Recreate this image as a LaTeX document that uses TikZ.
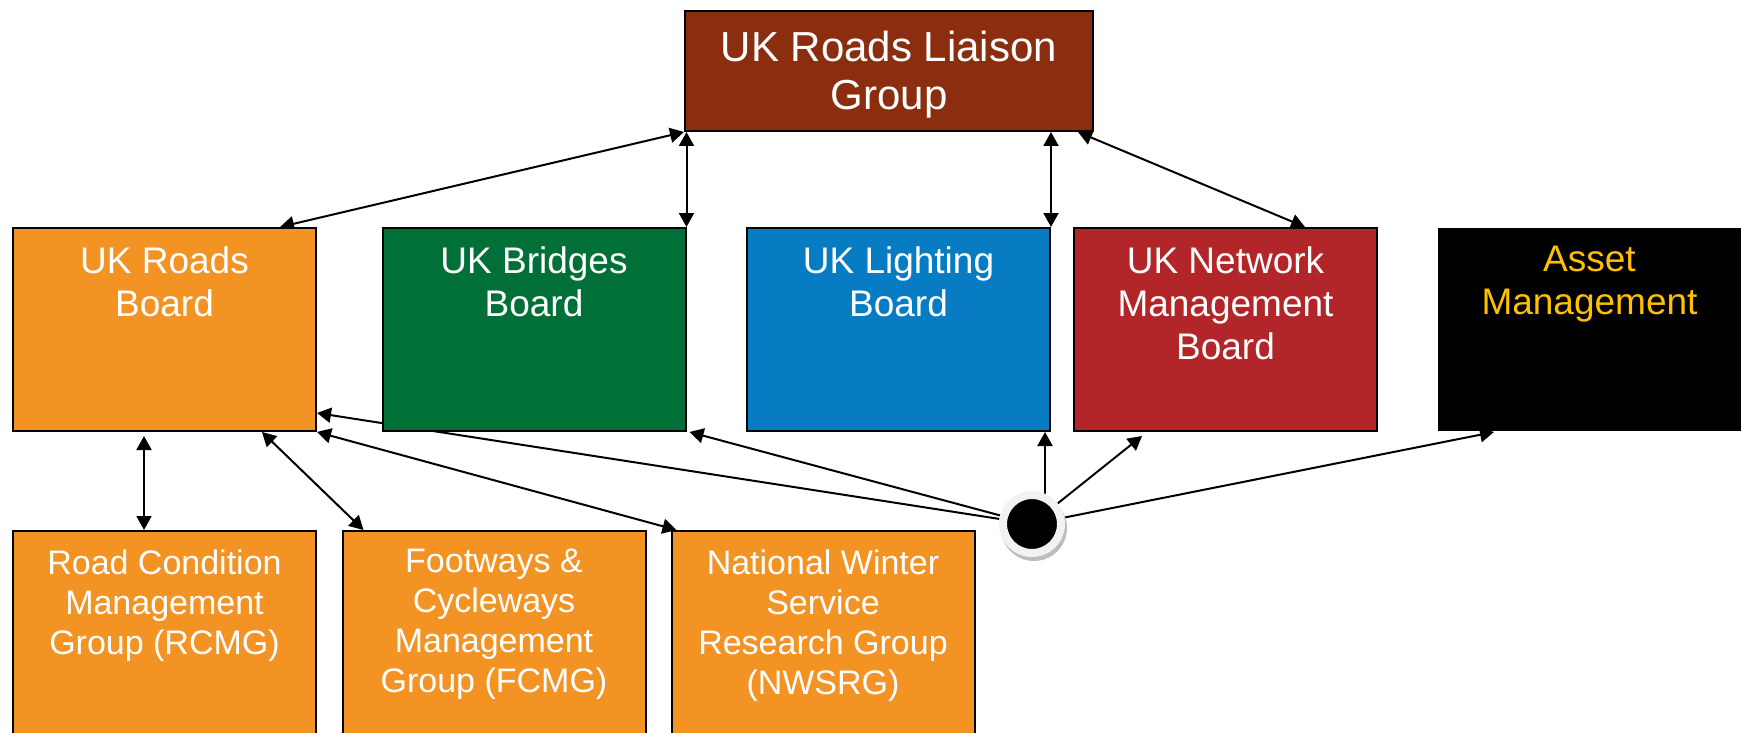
\documentclass[tikz,border=0pt]{standalone}
\usepackage{fontspec}
\setmainfont{Liberation Sans}
\usetikzlibrary{arrows.meta,backgrounds,calc}
\definecolor{liaisonc}{HTML}{8B2E10}
\definecolor{orangec}{HTML}{F39324}
\definecolor{greenc}{HTML}{007038}
\definecolor{bluec}{HTML}{077CC2}
\definecolor{redc}{HTML}{B22528}
\definecolor{goldc}{HTML}{FFC000}
\definecolor{ringc}{HTML}{F2F2F2}
\definecolor{shadowc}{HTML}{BDBDBD}
\begin{document}
\begin{tikzpicture}[x=0.5pt,y=-0.5pt,
  box/.style={draw=black,line width=1pt,rectangle,inner sep=0pt},
  boardbox/.style={box,minimum width=151.5pt,minimum height=101.5pt},
  lowbox/.style={box,fill=orangec,minimum width=151.5pt,minimum height=115pt},
  boardtext/.style={text=white,align=center,inner sep=0pt,anchor=north,font=\fontsize{18.5}{21.5}\selectfont},
  lowtext/.style={text=white,align=center,inner sep=0pt,anchor=north,font=\fontsize{17}{20}\selectfont},
  tip/.tip={Triangle[length=7pt,width=7.5pt]},
  link/.style={line width=1pt,tip-tip},
  feed/.style={line width=1pt,-tip}
]
\useasboundingbox (0,0) rectangle (1741,733);
\clip (0,0) rectangle (1741,733);
% top
\node[box,fill=liaisonc,minimum width=204pt,minimum height=60pt] (liaison) at (889,71) {};
\node[text=white,align=center,inner sep=0pt,anchor=north,font=\fontsize{21}{24}\selectfont] (liaisonT) at ([yshift=-10.5pt]liaison.north) {UK Roads Liaison\\Group};
% boards
\node[boardbox,fill=orangec] (roads) at (164.5,329.5) {};
\node[boardtext] (roadsT) at ([yshift=-9.5pt]roads.north) {UK Roads\\Board};
\node[boardbox,fill=greenc] (bridges) at (534,329.5) {};
\node[boardtext] (bridgesT) at ([yshift=-9.5pt]bridges.north) {UK Bridges\\Board};
\node[boardbox,fill=bluec] (lighting) at (898.5,329.5) {};
\node[boardtext] (lightingT) at ([yshift=-9.5pt]lighting.north) {UK Lighting\\Board};
\node[boardbox,fill=redc] (network) at (1225.5,329.5) {};
\node[boardtext] (networkT) at ([yshift=-9.5pt]network.north) {UK Network\\Management\\Board};
\node[boardbox,fill=black,draw=none] (asset) at (1589.5,329.5) {};
\node[boardtext,text=goldc] (assetT) at ([yshift=-9.5pt]asset.north) {Asset\\Management};
% groups
\node[lowbox] (rcmg) at (164.5,646) {};
\node[lowtext] (rcmgT) at ([yshift=-9.5pt]rcmg.north) {Road Condition\\Management\\Group (RCMG)};
\node[lowbox] (fcmg) at (494,646) {};
\node[lowtext] (fcmgT) at ([yshift=-9.5pt]fcmg.north) {Footways \&\\Cycleways\\Management\\Group (FCMG)};
\node[lowbox] (nwsrg) at (823,646) {};
\node[lowtext] (nwsrgT) at ([yshift=-9.5pt]nwsrg.north) {National Winter\\Service\\Research Group\\(NWSRG)};
% hub
\fill[shadowc] (1034,528) circle[radius=16.5pt];
\node[circle,fill=black,draw=ringc,line width=4pt,minimum size=29pt,inner sep=0pt] (hub) at (1032,524) {};
% connectors
\begin{scope}[on background layer]
\draw[link] (liaison.south west) -- ([xshift=-18.5pt]roads.north east);
\draw[link] (bridges.north east |- liaison.south) -- (bridges.north east);
\draw[link] (lighting.north east |- liaison.south) -- (lighting.north east);
\draw[link] ([xshift=-8pt]liaison.south east) -- ([xshift=39.75pt]network.north);
\draw[link] ([xshift=-10.25pt,yshift=-2pt]roads.south) -- ([xshift=-10.25pt]rcmg.north);
\draw[link] ([xshift=48.75pt]roads.south) -- ([xshift=11pt]fcmg.north west);
\draw[link] (roads.south east) -- ([xshift=3pt]nwsrg.north west);
\draw[feed] (hub) -- ([yshift=9.5pt]roads.south east);
\draw[feed] (hub) -- ([xshift=1.5pt]bridges.south east);
\draw[feed] ([xshift=6.5pt]hub.center) -- ([xshift=6.5pt]hub.center |- lighting.south);
\draw[feed] (hub) -- ([xshift=34.5pt,yshift=-2pt]network.south west);
\draw[feed] (hub) -- ([xshift=28.5pt]asset.south west);
\end{scope}
\end{tikzpicture}
\end{document}
